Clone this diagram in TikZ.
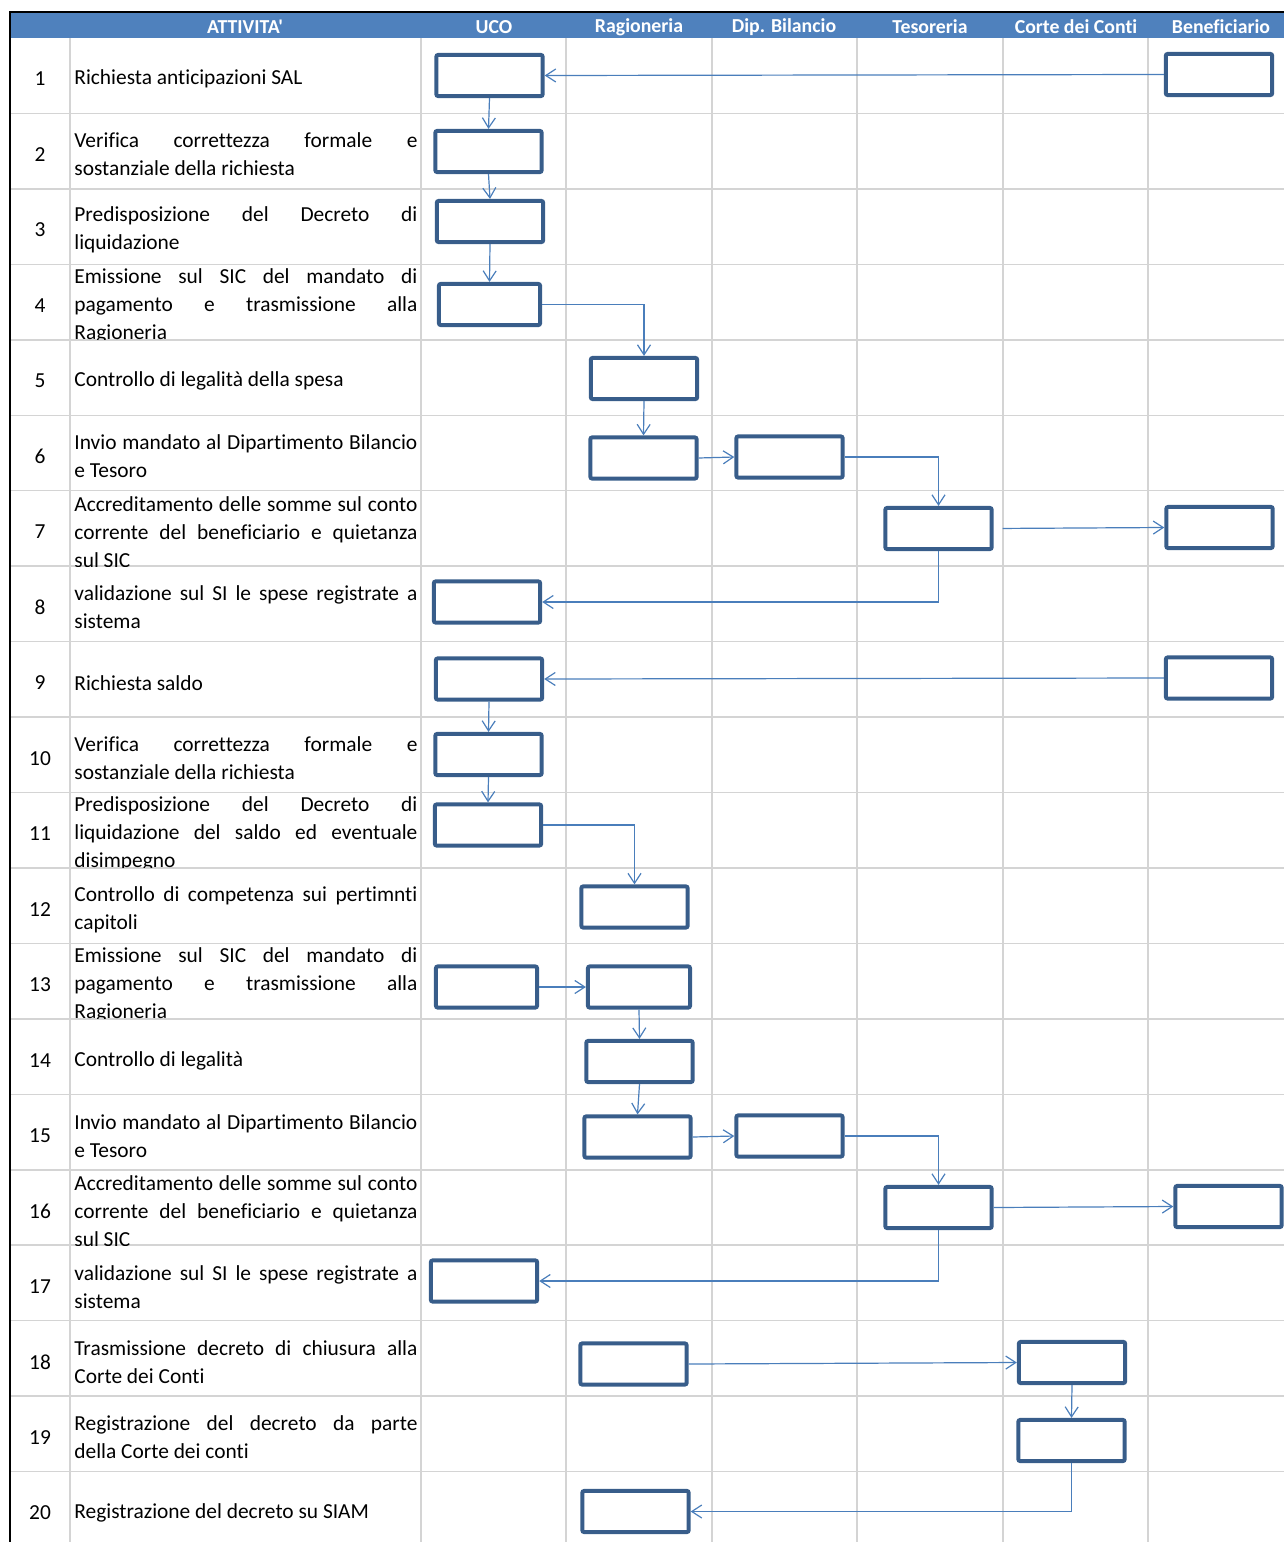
\documentclass[tikz,border=0pt]{standalone}
\usepackage{fontspec}
\setmainfont{Carlito}[Ligatures={TeX,NoCommon}]
\newfontfamily\hdrfont{Carlito}[Ligatures=NoCommon]
\usetikzlibrary{arrows.meta}
\definecolor{hdrblue}{HTML}{4F81BD}
\definecolor{boxblue}{HTML}{385D8A}
\definecolor{linkblue}{HTML}{4A7EBB}
\definecolor{gridgray}{HTML}{D4D4D4}
\hyphenpenalty=10000
\tolerance=10000
\hbadness=10000
\tikzset{
  attbox/.style={draw=boxblue, line width=2pt, fill=white, rounded corners=1pt, minimum width=53.2pt, minimum height=20.6pt, inner sep=0pt},
  link/.style={draw=linkblue, line width=0.6pt, -{Straight Barb[length=5pt,width=6.5pt]}},
  gridline/.style={draw=gridgray, line width=0.75pt},
  acttext/.style={anchor=west, inner sep=0pt, text width=171.5pt, align=justify, font=\fontsize{10.7}{14}\selectfont},
  numtext/.style={inner sep=0pt, font=\fontsize{10.7}{14}\selectfont},
  colhead/.style={inner sep=0pt, text=white, font=\hdrfont\bfseries\fontsize{9.9}{12}\selectfont}
}
\begin{document}
\begin{tikzpicture}[x=0.5pt, y=-0.5pt]
	\useasboundingbox (0,0) rectangle (1284,1542);
	\clip (0,0) rectangle (1284,1542);
	% header and grid
	\fill[hdrblue] (10,12) rectangle (1284,38);
	\foreach \k in {1,...,20} \draw[gridline] (10,{38+75.45*\k}) -- (1284,{38+75.45*\k});
	\foreach \xg in {70,421,566,712,857,1003,1148} \draw[gridline] (\xg,38) -- (\xg,1542);
	\draw[line width=1pt] (10,1542) -- (10,12) -- (1284,12);
	\node[colhead] (hatt) at (245,27) {ATTIVITA'};
	\node[colhead] (huco) at (494,27) {UCO};
	\node[colhead] (hrag) at (639,27) {Ragioneria};
	\node[colhead] (hdip) at (784,27) {Dip. Bilancio};
	\node[colhead] (htes) at (930,27) {Tesoreria};
	\node[colhead] (hcdc) at (1076,27) {Corte dei Conti};
	\node[colhead] (hben) at (1221,27) {Beneficiario};
	% activities
	\node[numtext] (n1) at (40,79) {1};
	\node[acttext] (t1) at (74,79) {Richiesta anticipazioni SAL};
	\node[numtext] (n2) at (40,154.5) {2};
	\node[acttext] (t2) at (74,154.5) {Verifica correttezza formale e\linebreak sostanziale della richiesta};
	\node[numtext] (n3) at (40,230) {3};
	\node[acttext] (t3) at (74,230) {Predisposizione del Decreto di\linebreak liquidazione};
	\node[numtext] (n4) at (40,305.5) {4};
	\begin{scope}
		\clip (70,264.35) rectangle (421,339.8);
		\node[acttext] (t4) at (74,305.5) {Emissione sul SIC del mandato di\linebreak pagamento e trasmissione alla\linebreak Ragioneria};
	\end{scope}
	\node[numtext] (n5) at (40,381) {5};
	\node[acttext] (t5) at (74,381) {Controllo di legalità della spesa};
	\node[numtext] (n6) at (40,456.5) {6};
	\node[acttext] (t6) at (74,456.5) {Invio mandato al Dipartimento Bilancio\linebreak e Tesoro};
	\node[numtext] (n7) at (40,532) {7};
	\begin{scope}
		\clip (70,490.7) rectangle (421,566.15);
		\node[acttext] (t7) at (74,532) {Accreditamento delle somme sul conto\linebreak corrente del beneficiario e quietanza\linebreak sul SIC};
	\end{scope}
	\node[numtext] (n8) at (40,607.5) {8};
	\node[acttext] (t8) at (74,607.5) {validazione sul SI le spese registrate a\linebreak sistema};
	\node[numtext] (n9) at (40,683) {9};
	\node[acttext] (t9) at (74,683) {Richiesta saldo};
	\node[numtext] (n10) at (40,758.5) {10};
	\node[acttext] (t10) at (74,758.5) {Verifica correttezza formale e\linebreak sostanziale della richiesta};
	\node[numtext] (n11) at (40,834) {11};
	\begin{scope}
		\clip (70,792.5) rectangle (421,867.95);
		\node[acttext] (t11) at (74,834) {Predisposizione del Decreto di\linebreak liquidazione del saldo ed eventuale\linebreak disimpegno};
	\end{scope}
	\node[numtext] (n12) at (40,909.5) {12};
	\node[acttext] (t12) at (74,909.5) {Controllo di competenza sui pertimnti\linebreak capitoli};
	\node[numtext] (n13) at (40,985) {13};
	\begin{scope}
		\clip (70,943.4) rectangle (421,1018.85);
		\node[acttext] (t13) at (74,985) {Emissione sul SIC del mandato di\linebreak pagamento e trasmissione alla\linebreak Ragioneria};
	\end{scope}
	\node[numtext] (n14) at (40,1060.5) {14};
	\node[acttext] (t14) at (74,1060.5) {Controllo di legalità};
	\node[numtext] (n15) at (40,1136) {15};
	\node[acttext] (t15) at (74,1136) {Invio mandato al Dipartimento Bilancio\linebreak e Tesoro};
	\node[numtext] (n16) at (40,1211.5) {16};
	\begin{scope}
		\clip (70,1169.75) rectangle (421,1245.2);
		\node[acttext] (t16) at (74,1211.5) {Accreditamento delle somme sul conto\linebreak corrente del beneficiario e quietanza\linebreak sul SIC};
	\end{scope}
	\node[numtext] (n17) at (40,1287) {17};
	\node[acttext] (t17) at (74,1287) {validazione sul SI le spese registrate a\linebreak sistema};
	\node[numtext] (n18) at (40,1362) {18};
	\node[acttext] (t18) at (74,1362) {Trasmissione decreto di chiusura alla\linebreak Corte dei Conti};
	\node[numtext] (n19) at (40,1437.5) {19};
	\node[acttext] (t19) at (74,1437.5) {Registrazione del decreto da parte\linebreak della Corte dei conti};
	\node[numtext] (n20) at (40,1513) {20};
	\node[acttext] (t20) at (74,1513) {Registrazione del decreto su SIAM};
	% boxes
	\node[attbox] (b1u) at (489.5,75.5) {};
	\node[attbox] (b1b) at (1219,74.5) {};
	\node[attbox] (b2) at (488.5,151.5) {};
	\node[attbox] (b3) at (490,221.5) {};
	\node[attbox, minimum width=50.6pt] (b4) at (489.5,304.5) {};
	\node[attbox] (b5) at (644,378.5) {};
	\node[attbox] (b6r) at (643.5,458) {};
	\node[attbox] (b6d) at (789.5,457) {};
	\node[attbox] (b7t) at (938.5,528.5) {};
	\node[attbox] (b7b) at (1219.5,527.5) {};
	\node[attbox] (b8) at (487,602) {};
	\node[attbox] (b9u) at (489,679) {};
	\node[attbox] (b9b) at (1219,678) {};
	\node[attbox] (b10) at (488.5,754.5) {};
	\node[attbox] (b11) at (488,825) {};
	\node[attbox] (b12) at (634.5,907) {};
	\node[attbox, minimum width=50.6pt] (b13u) at (486.5,987) {};
	\node[attbox, minimum width=51.1pt] (b13r) at (639,987) {};
	\node[attbox] (b14) at (639.5,1061.5) {};
	\node[attbox] (b15r) at (637.5,1137) {};
	\node[attbox] (b15d) at (789.5,1136) {};
	\node[attbox] (b16t) at (938.5,1207.5) {};
	\node[attbox] (b16b) at (1228.5,1206.5) {};
	\node[attbox] (b17) at (484,1281) {};
	\node[attbox] (b18r) at (633.5,1364) {};
	\node[attbox] (b18c) at (1072,1362.5) {};
	\node[attbox] (b19) at (1071.5,1440.5) {};
	\node[attbox] (b20) at (635.5,1511.5) {};
	% connectors
	\draw[link] (b1b.west) -- (b1u.east);
	\draw[link] (b1u.south) -- (b2.north);
	\draw[link] (b2.south) -- (b3.north);
	\draw[link] (b3.south) -- (b4.north);
	\draw[link] (b4.east) -| (b5.north);
	\draw[link] (b5.south) -- (b6r.north);
	\draw[link] (b6r.east) -- (b6d.west);
	\draw[link] (b6d.east) -| (b7t.north);
	\draw[link, shorten <=4.5pt] (b7t.east) -- (b7b.west);
	\draw[link] (b7t.south) |- (b8.east);
	\draw[link] (b9b.west) -- (b9u.east);
	\draw[link] (b9u.south) -- (b10.north);
	\draw[link] (b10.south) -- (b11.north);
	\draw[link] (b11.east) -| (b12.north);
	\draw[link] (b13u.east) -- (b13r.west);
	\draw[link] (b13r.south) -- (b14.north);
	\draw[link] (b14.south) -- (b15r.north);
	\draw[link] (b15r.east) -- (b15d.west);
	\draw[link] (b15d.east) -| (b16t.north);
	\draw[link] (b16t.east) -- (b16b.west);
	\draw[link] (b16t.south) |- (b17.east);
	\draw[link] (b18r.east) -- (b18c.west);
	\draw[link] (b18c.south) -- (b19.north);
	\draw[link] (b19.south) |- (b20.east);
\end{tikzpicture}
\end{document}
